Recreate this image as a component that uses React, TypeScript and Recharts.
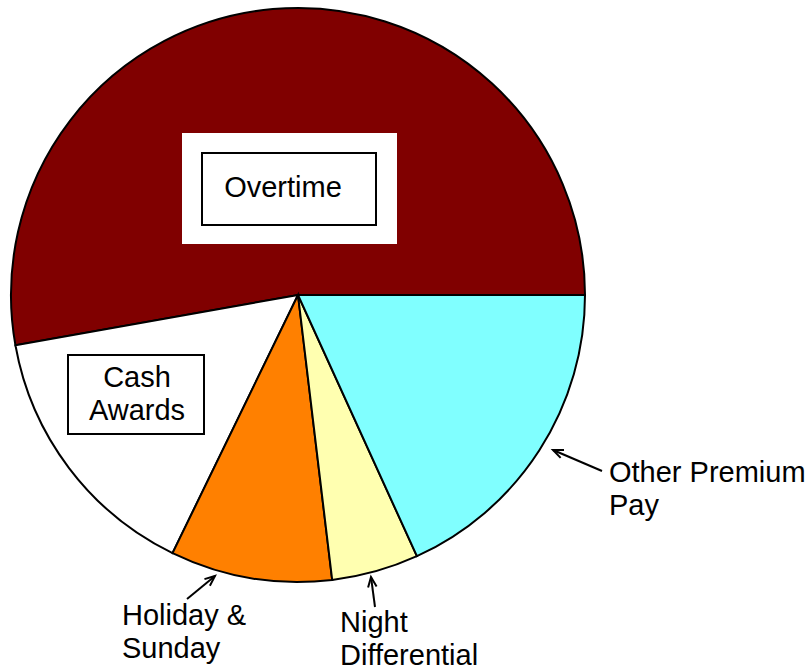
import { PieChart, Pie, Cell } from "recharts";

const categories = ["Overtime", "Cash Awards", "Holiday & Sunday", "Night Differential", "Other Premium Pay"];
const shares = [52.8, 15.0, 9.1, 4.9, 18.2];
const colors = ["#800000", "#ffffff", "#ff8000", "#ffffb0", "#80ffff"];

const data = categories.map((name, i) => ({ name, value: shares[i] }));

const font = "'Liberation Sans', Arial, sans-serif";
const fontSize = 29;

function Arrow({ x1, y1, x2, y2 }: { x1: number; y1: number; x2: number; y2: number }) {
  // line from tail (x1,y1) to tip (x2,y2), with an open head at the tip
  const a = Math.atan2(y2 - y1, x2 - x1);
  const len = 11;
  const spread = 0.4;
  const h1x = x2 - len * Math.cos(a - spread);
  const h1y = y2 - len * Math.sin(a - spread);
  const h2x = x2 - len * Math.cos(a + spread);
  const h2y = y2 - len * Math.sin(a + spread);
  return (
    <g stroke="#000" strokeWidth={2} fill="none">
      <line x1={x1} y1={y1} x2={x2} y2={y2} />
      <path d={`M${h1x},${h1y} L${x2},${y2} L${h2x},${h2y}`} />
    </g>
  );
}

function Lines({ x, y, lines, anchor = "start" }: { x: number; y: number; lines: string[]; anchor?: "start" | "middle" }) {
  return (
    <text x={x} y={y} fontFamily={font} fontSize={fontSize} fill="#000" stroke="none" textAnchor={anchor}>
      {lines.map((l, i) => (
        <tspan key={i} x={x} dy={i === 0 ? 0 : 33}>
          {l}
        </tspan>
      ))}
    </text>
  );
}

function renderLabel(props: any) {
  const { cx, cy, name } = props;
  switch (name) {
    case "Overtime":
      return (
        <g>
          <rect x={cx - 116} y={cy - 162} width={215} height={111} fill="#fff" stroke="none" />
          <rect x={cx - 96} y={cy - 142} width={174} height={72} fill="#fff" stroke="#000" strokeWidth={2} />
          <Lines x={cx - 15} y={cy - 98} lines={["Overtime"]} anchor="middle" />
        </g>
      );
    case "Cash Awards":
      return (
        <g>
          <rect x={cx - 230} y={cy + 60} width={136} height={79} fill="#fff" stroke="#000" strokeWidth={2} />
          <Lines x={cx - 161} y={cy + 92} lines={["Cash", "Awards"]} anchor="middle" />
        </g>
      );
    case "Holiday & Sunday":
      return (
        <g>
          <Arrow x1={cx - 111} y1={cy + 304} x2={cx - 83} y2={cy + 281} />
          <Lines x={cx - 176} y={cy + 330} lines={["Holiday &", "Sunday"]} />
        </g>
      );
    case "Night Differential":
      return (
        <g>
          <Arrow x1={cx + 77} y1={cy + 312} x2={cx + 73} y2={cy + 282} />
          <Lines x={cx + 42} y={cy + 337} lines={["Night", "Differential"]} />
        </g>
      );
    default:
      return (
        <g>
          <Arrow x1={cx + 304} y1={cy + 176} x2={cx + 255} y2={cy + 155} />
          <Lines x={cx + 311} y={cy + 187} lines={["Other Premium", "Pay"]} />
        </g>
      );
  }
}

export default function App() {
  return (
    <div style={{ position: "absolute", left: 0, top: 0, width: 811, height: 670, background: "#fff" }}>
      <PieChart width={811} height={670} margin={{ top: 0, right: 0, bottom: 0, left: 0 }}>
        <Pie
          data={data}
          dataKey="value"
          nameKey="name"
          cx={298}
          cy={295}
          outerRadius={287}
          startAngle={0}
          endAngle={360}
          stroke="#000"
          strokeWidth={2}
          label={renderLabel}
          labelLine={false}
          isAnimationActive={false}
        >
          {data.map((_, i) => (
            <Cell key={i} fill={colors[i]} stroke="#000" strokeWidth={2} />
          ))}
        </Pie>
      </PieChart>
    </div>
  );
}
